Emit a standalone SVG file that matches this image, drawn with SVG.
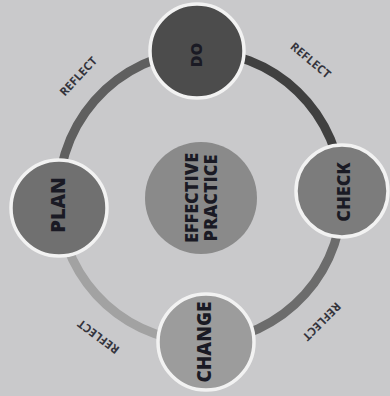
<svg xmlns="http://www.w3.org/2000/svg" width="390" height="396" viewBox="0 0 390 396">
<style>
.arc{fill:none;stroke-width:9;stroke-linecap:butt}
.node{stroke:#f2f2f2;stroke-width:3.5}
.lbl{font-family:"Open Sans","DejaVu Sans",sans-serif;font-weight:800;fill:#1a1a24;text-anchor:middle;dominant-baseline:central}
.ref{font-family:"Open Sans","DejaVu Sans",sans-serif;font-weight:700;font-size:11.5px;fill:#34343c;text-anchor:middle;dominant-baseline:central;letter-spacing:0.2px}
</style>
<rect width="390" height="396" fill="#c9c9cb"/>
<g id="connectors">
<path class="arc" stroke="#404040" d="M197,51 A145,145 0 0 1 342,191"/>
<path class="arc" stroke="#6c6c6c" d="M342,191 A145,145 0 0 1 206,342"/>
<path class="arc" stroke="#a2a2a2" d="M206,342 A145,145 0 0 1 59,209"/>
<path class="arc" stroke="#5f5f5f" d="M59,209 A146,146 0 0 1 197,51"/>
<text class="ref" transform="translate(78,76) rotate(-47)">REFLECT</text>
<text class="ref" transform="translate(311,60) rotate(40)">REFLECT</text>
<text class="ref" transform="translate(322,322) rotate(135)">REFLECT</text>
<text class="ref" transform="translate(98,337) rotate(-143)">REFLECT</text>
</g>
<g id="center">
<circle cx="201" cy="198" r="56" fill="#8a8a8a"/>
<text class="lbl" font-size="18" transform="translate(191,198) rotate(-90)">EFFECTIVE</text>
<text class="lbl" font-size="18" transform="translate(210,198) rotate(-90)">PRACTICE</text>
</g>
<g id="do">
<circle class="node" cx="197" cy="51" r="47" fill="#4c4c4c"/>
<text class="lbl" font-size="16" transform="translate(196,55) rotate(-90)">DO</text>
</g>
<g id="check">
<circle class="node" cx="342" cy="191" r="46" fill="#7c7c7c"/>
<text class="lbl" font-size="18" transform="translate(343,192) rotate(-90)">CHECK</text>
</g>
<g id="change">
<circle class="node" cx="206" cy="342" r="48" fill="#9c9c9c"/>
<text class="lbl" font-size="19" transform="translate(204,342) rotate(-90)">CHANGE</text>
</g>
<g id="plan">
<circle class="node" cx="59" cy="208" r="48" fill="#707070"/>
<text class="lbl" font-size="20" transform="translate(57,205) rotate(-90)">PLAN</text>
</g>
</svg>
